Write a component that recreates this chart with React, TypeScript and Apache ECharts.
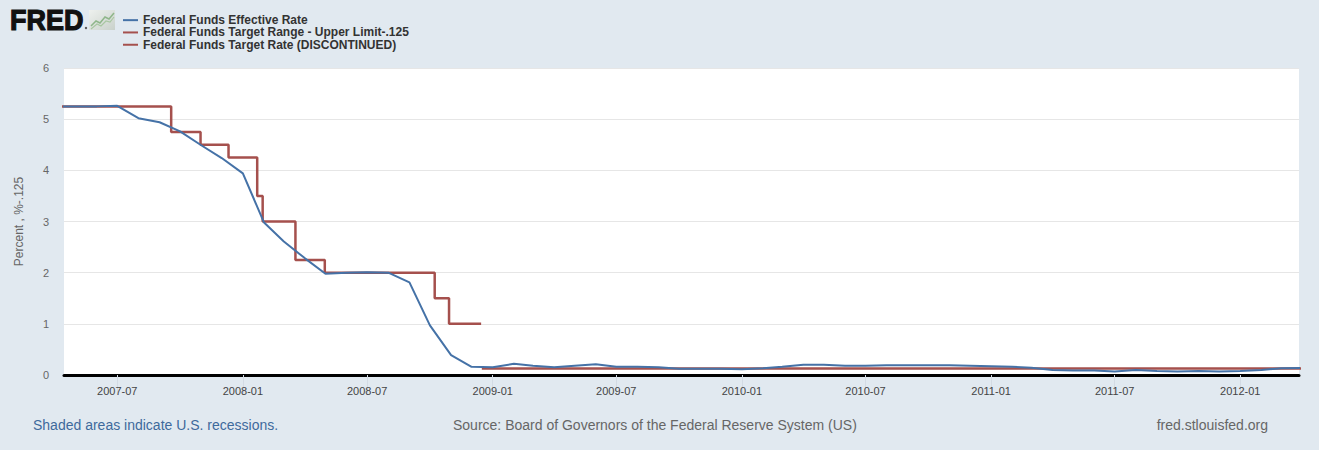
import React, { useEffect, useRef } from "react";
import * as echarts from "echarts";

// Federal Funds Effective Rate, monthly, starting 2007-04
const effectiveStart = { year: 2007, month: 4 };
const effectiveRate = [
  5.25, 5.25, 5.25, 5.26, 5.02, 4.94, 4.76, 4.49, 4.24,
  3.94, 2.98, 2.61, 2.28, 1.98, 2.0, 2.01, 2.0, 1.81, 0.97, 0.39, 0.16,
  0.15, 0.22, 0.18, 0.15, 0.18, 0.21, 0.16, 0.16, 0.15, 0.12, 0.12, 0.12,
  0.11, 0.13, 0.16, 0.2, 0.2, 0.18, 0.18, 0.19, 0.19, 0.19, 0.19, 0.18,
  0.17, 0.16, 0.14, 0.1, 0.09, 0.09, 0.07, 0.1, 0.08, 0.07, 0.08, 0.07,
  0.08, 0.1, 0.13, 0.14,
];

// Federal Funds Target Rate (DISCONTINUED): change dates and new levels
const targetDates = [
  "2007-04-01", "2007-09-18", "2007-10-31", "2007-12-11", "2008-01-22",
  "2008-01-30", "2008-03-18", "2008-04-30", "2008-10-08", "2008-10-29",
  "2008-12-15",
];
const targetRate = [5.25, 4.75, 4.5, 4.25, 3.5, 3.0, 2.25, 2.0, 1.5, 1.0, 1.0];

// Federal Funds Target Range - Upper Limit - .125
const rangeDates = ["2008-12-16", "2012-04-01"];
const rangeUpperMinus = [0.125, 0.125];

// Tick labels
const tickLabels = [
  "2007-07", "2008-01", "2008-07", "2009-01", "2009-07",
  "2010-01", "2010-07", "2011-01", "2011-07", "2012-01",
];

const seriesNames = [
  "Federal Funds Effective Rate",
  "Federal Funds Target Range - Upper Limit-.125",
  "Federal Funds Target Rate (DISCONTINUED)",
];

const BLUE = "#4572A7";
const RED = "#A5504D";
const FONT = "'Liberation Sans', Arial, sans-serif";

function utc(s: string): number {
  const [y, m, d] = s.split("-").map(Number);
  return Date.UTC(y, m - 1, d || 1);
}

function pad(n: number) {
  return n < 10 ? "0" + n : "" + n;
}

export default function App() {
  const ref = useRef<HTMLDivElement>(null);

  useEffect(() => {
    if (!ref.current) return;
    const chart = echarts.init(ref.current, undefined, { renderer: "svg" });

    const effData = effectiveRate.map((v, i) => [
      Date.UTC(effectiveStart.year, effectiveStart.month - 1 + i, 1),
      v,
    ]);
    const targetData = targetDates.map((d, i) => [utc(d), targetRate[i]]);
    const rangeData = rangeDates.map((d, i) => [utc(d), rangeUpperMinus[i]]);
    const ticks = tickLabels.map((t) => utc(t));

    chart.setOption({
      animation: false,
      backgroundColor: "#E1E9F0",
      textStyle: { fontFamily: FONT },
      grid: {
        left: 64,
        right: 20,
        top: 68,
        bottom: 75,
        show: true,
        backgroundColor: "#ffffff",
        borderWidth: 0,
      },
      legend: {
        orient: "vertical",
        left: 123,
        top: 14,
        padding: 0,
        itemWidth: 15,
        itemHeight: 2,
        itemGap: 0,
        icon: "rect",
        data: seriesNames,
        textStyle: {
          fontSize: 12,
          fontWeight: "bold",
          color: "#333",
          lineHeight: 12.3,
          fontFamily: FONT,
        },
      },
      xAxis: {
        type: "value",
        min: utc("2007-04-14"),
        max: utc("2012-03-27"),
        axisLine: { show: true, onZero: false, lineStyle: { color: "#000", width: 3 } },
        axisTick: {
          show: true,
          customValues: ticks,
          length: 18,
          lineStyle: { color: "#d3dbe4", width: 1 },
        },
        axisLabel: {
          customValues: ticks,
          margin: 10,
          fontSize: 11,
          color: "#444",
          fontFamily: FONT,
          formatter: (v: number) => {
            const d = new Date(v);
            return d.getUTCFullYear() + "-" + pad(d.getUTCMonth() + 1);
          },
        },
        splitLine: { show: false },
      },
      yAxis: {
        type: "value",
        min: 0,
        max: 6,
        interval: 1,
        name: "Percent , %-.125",
        nameLocation: "middle",
        nameRotate: 90,
        nameGap: 39,
        nameTextStyle: { fontSize: 12, color: "#666", fontFamily: FONT },
        axisLine: { show: false },
        axisTick: { show: false },
        axisLabel: { fontSize: 11, color: "#666", margin: 15, fontFamily: FONT },
        splitLine: { show: true, lineStyle: { color: "#e6e6e6", width: 1 } },
      },
      series: [
        {
          name: seriesNames[0],
          type: "line",
          data: effData,
          showSymbol: false,
          symbol: "none",
          color: BLUE,
          lineStyle: { color: BLUE, width: 2 },
          z: 3,
        },
        {
          name: seriesNames[1],
          type: "line",
          step: "end",
          data: rangeData,
          showSymbol: false,
          symbol: "none",
          color: RED,
          lineStyle: { color: RED, width: 2.5 },
          z: 2,
        },
        {
          name: seriesNames[2],
          type: "line",
          step: "end",
          data: targetData,
          showSymbol: false,
          symbol: "none",
          color: RED,
          lineStyle: { color: RED, width: 2.5 },
          z: 2,
        },
      ],
      graphic: [
        {
          type: "text",
          x: 10,
          y: 6,
          scaleX: 0.93,
          style: {
            text: "FRED",
            font: "bold 29px " + FONT,
            fill: "#111",
            stroke: "#111",
            lineWidth: 1.2,
          },
        },
        {
          type: "circle",
          shape: { cx: 86, cy: 28, r: 1.2 },
          style: { fill: "#555" },
        },
        {
          type: "group",
          x: 89,
          y: 10,
          children: [
            {
              type: "rect",
              shape: { x: 0, y: 0, width: 26, height: 20 },
              style: {
                fill: new echarts.graphic.LinearGradient(0, 0, 1, 1, [
                  { offset: 0, color: "#eef1ee" },
                  { offset: 1, color: "#c9d1cb" },
                ]),
              },
            },
            {
              type: "polyline",
              shape: { points: [[2, 16], [7, 11], [11, 13], [16, 7], [20, 9], [25, 3]] },
              style: { stroke: "#8fb68a", lineWidth: 1.5, fill: "none" },
            },
            {
              type: "polyline",
              shape: { points: [[2, 19], [8, 14], [12, 16], [17, 11], [21, 12], [25, 7]] },
              style: { stroke: "#a9c7a2", lineWidth: 1.2, fill: "none" },
            },
          ],
        },
        {
          type: "text",
          left: 33,
          top: 418,
          style: {
            text: "Shaded areas indicate U.S. recessions.",
            font: "14px " + FONT,
            fill: "#3e6a9c",
          },
        },
        {
          type: "text",
          left: 453,
          top: 418,
          style: {
            text: "Source: Board of Governors of the Federal Reserve System (US)",
            font: "14px " + FONT,
            fill: "#666",
          },
        },
        {
          type: "text",
          right: 51,
          top: 418,
          style: {
            text: "fred.stlouisfed.org",
            font: "14px " + FONT,
            fill: "#666",
          },
        },
      ],
    });

    return () => chart.dispose();
  }, []);

  return (
    <div
      ref={ref}
      style={{ position: "fixed", left: 0, top: 0, width: 1319, height: 450 }}
    />
  );
}
